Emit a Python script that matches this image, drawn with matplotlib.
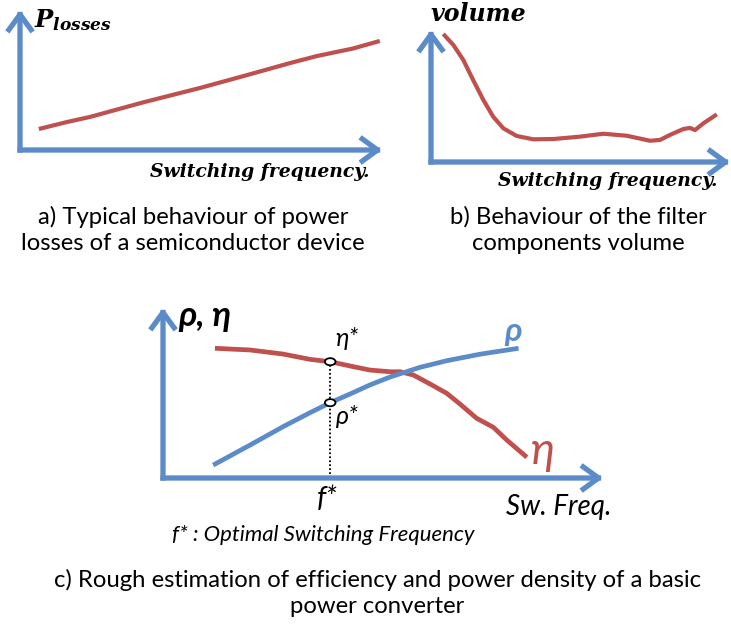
import numpy as np
import matplotlib
matplotlib.use("Agg")
from matplotlib import pyplot as plt
from matplotlib.patches import Ellipse

# bold italic serif for the math-style axis names
plt.rcParams['mathtext.fontset'] = 'custom'
plt.rcParams['mathtext.it'] = 'DejaVu Serif:italic:bold'
plt.rcParams['mathtext.rm'] = 'DejaVu Serif:bold'

# DATA (arbitrary units, 0..10 on both axes)
# a) power losses vs switching frequency
losses_f = [0.52, 1.3, 1.93, 3.4, 4.97, 6.2, 7.46, 8.20, 9.2, 9.94]
losses_p = [1.50, 2.0, 2.36, 3.4, 4.43, 5.3, 6.21, 6.71, 7.25, 7.79]

# b) filter volume vs switching frequency
volume_f = [0.41, 0.75, 1.08, 1.41, 1.75, 2.08, 2.42, 2.87, 3.42, 4.09, 4.98,
            5.76, 6.55, 7.32, 7.66, 7.99, 8.44, 8.66, 8.83, 9.11, 9.56]
volume_v = [9.70, 8.86, 7.73, 6.21, 4.70, 3.43, 2.55, 1.97, 1.72, 1.74, 1.92,
            2.14, 1.99, 1.61, 1.67, 2.05, 2.50, 2.58, 2.42, 2.93, 3.61]

# c) efficiency and power density vs switching frequency
eta_f = [1.18, 1.98, 2.73, 3.34, 3.80, 4.25, 4.70, 5.16, 5.39, 5.69, 6.07,
         6.45, 6.75, 7.13, 7.51, 7.81, 8.27]
eta_v = [7.63, 7.53, 7.29, 6.98, 6.84, 6.59, 6.35, 6.25, 6.25, 6.06, 5.53,
         4.98, 4.35, 3.51, 2.98, 2.24, 1.22]
rho_f = [1.14, 1.98, 2.73, 3.34, 3.80, 4.25, 4.70, 5.16, 5.84, 6.45, 7.20, 8.08]
rho_v = [0.76, 1.94, 3.02, 3.84, 4.43, 4.94, 5.47, 5.94, 6.51, 6.90, 7.28, 7.63]

f_opt = 3.80
eta_opt = 6.84
rho_opt = 4.43

# STYLE
blue = "#5b8bc9"
red = "#c0504d"
sans = ['Lato', 'Noto Sans', 'DejaVu Sans']
W, H = 731, 629


def px_box(left, top, right, bottom):
    # figure-fraction rectangle from pixel edges (y measured from the top)
    return [left / W, 1 - bottom / H, (right - left) / W, (bottom - top) / H]


def fpos(px, py):
    return px / W, 1 - py / H


def draw_axes(ax):
    ax.set_xlim(0, 10)
    ax.set_ylim(0, 10)
    ax.axis('off')
    style = '->,head_length=0.55,head_width=0.4'
    for tip in [(1, 0), (0, 1)]:
        ax.annotate('', xy=tip, xytext=(0, 0), xycoords='axes fraction',
                    arrowprops=dict(arrowstyle=style, lw=3.8, color=blue,
                                    mutation_scale=20, shrinkA=0, shrinkB=0,
                                    capstyle='projecting'))


fig = plt.figure(figsize=(W / 100, H / 100), dpi=100)

# a) losses
ax_a = fig.add_axes(px_box(20, 10, 382, 150))
draw_axes(ax_a)
ax_a.plot(losses_f, losses_p, color=red, lw=3.0, solid_capstyle='butt')
fig.text(*fpos(34, 20), r"$P_{losses}$", fontsize=17.5, va='center', ha='left')
fig.text(*fpos(370, 172), "Switching frequency.", fontsize=13.5, va='center', ha='right',
         family='DejaVu Serif', style='italic', weight='bold')

# b) volume
ax_b = fig.add_axes(px_box(431, 30, 730, 162))
draw_axes(ax_b)
ax_b.plot(volume_f, volume_v, color=red, lw=3.0, solid_capstyle='butt')
fig.text(*fpos(431, 14), "volume", fontsize=17, va='center', ha='left',
         family='DejaVu Serif', style='italic', weight='bold')
fig.text(*fpos(718, 181), "Switching frequency.", fontsize=13.5, va='center', ha='right',
         family='DejaVu Serif', style='italic', weight='bold')

# c) efficiency / power density
ax_c = fig.add_axes(px_box(163, 308, 603, 478))
draw_axes(ax_c)
ax_c.plot(eta_f, eta_v, color=red, lw=3.4, solid_capstyle='butt')
ax_c.plot(rho_f, rho_v, color=blue, lw=3.4, solid_capstyle='butt')
ax_c.plot([f_opt, f_opt], [0, eta_opt], color='black', lw=1.3, ls=(0, (1, 1.2)))
for yv in [eta_opt, rho_opt]:
    ax_c.add_patch(Ellipse((f_opt, yv), 0.24, 0.42, facecolor='white',
                           edgecolor='black', lw=1.3, zorder=5))

fig.text(*fpos(178, 316), "ρ, η", fontsize=25, va='center', ha='left',
         family=sans, style='italic', weight='bold')
fig.text(*fpos(335, 338), "η*", fontsize=18, va='center', ha='left',
         family=sans, style='italic')
fig.text(*fpos(336, 416), "ρ*", fontsize=18, va='center', ha='left',
         family=sans, style='italic')
fig.text(*fpos(504, 331), "ρ", fontsize=24, va='center', ha='left',
         family=sans, style='italic', weight='bold', color=blue)
fig.text(*fpos(531, 451), "η", fontsize=32, va='center', ha='left',
         family=sans, style='italic', color=red)
fig.text(*fpos(327, 499), "f*", fontsize=21, va='center', ha='center',
         family=sans, style='italic')
fig.text(*fpos(506, 507), "Sw. Freq.", fontsize=20, va='center', ha='left',
         family=sans, style='italic')
fig.text(*fpos(172, 535), "f* : Optimal Switching Frequency", fontsize=15.9,
         va='center', ha='left', family=sans, style='italic')

# captions
fig.text(*fpos(193, 230), "a) Typical behaviour of power\nlosses of a semiconductor device",
         fontsize=17.2, ha='center', va='center', family=sans, linespacing=1.33)
fig.text(*fpos(578, 230), "b) Behaviour of the filter\ncomponents volume",
         fontsize=17.2, ha='center', va='center', family=sans, linespacing=1.33)
fig.text(*fpos(377, 593), "c) Rough estimation of efficiency and power density of a basic\npower converter",
         fontsize=17.2, ha='center', va='center', family=sans, linespacing=1.33)

fig.savefig("out.png", dpi=100)
